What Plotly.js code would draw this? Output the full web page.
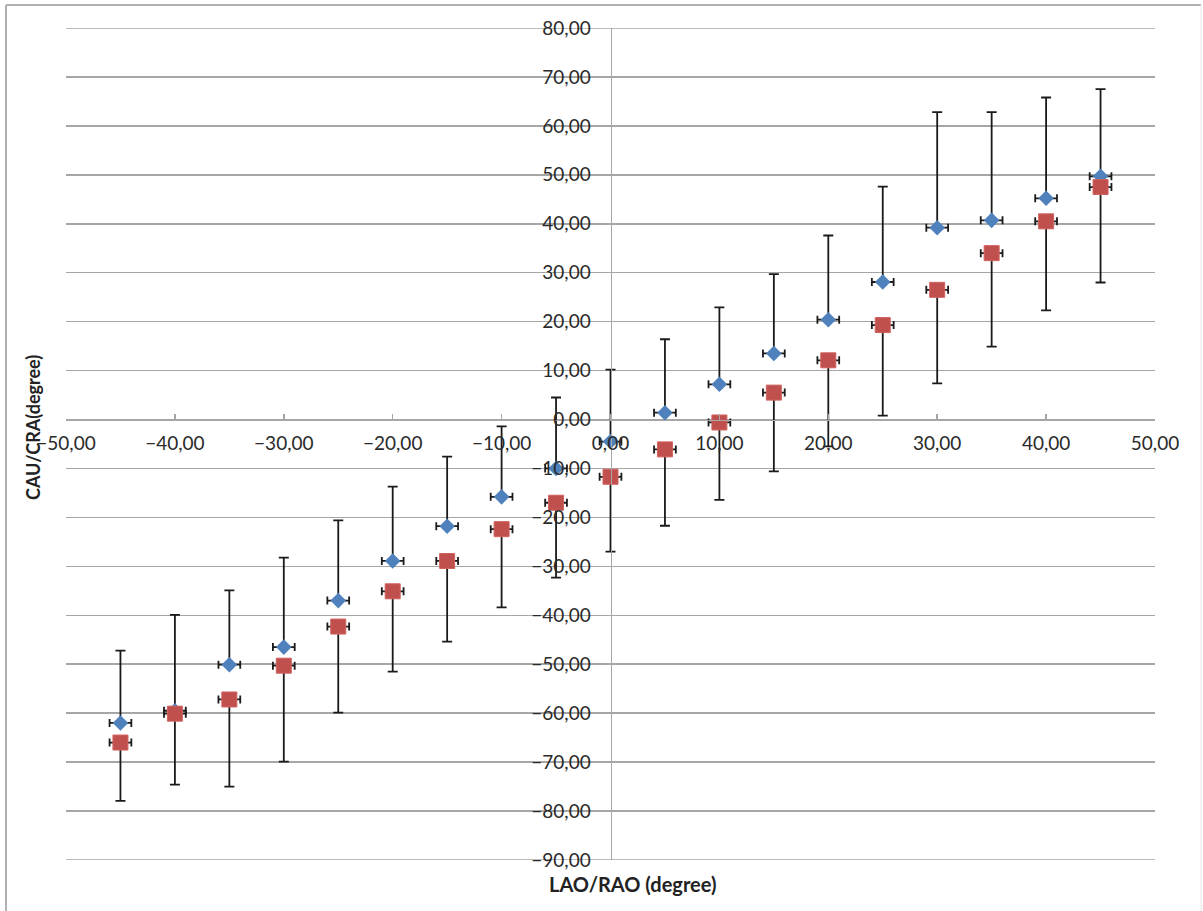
<!DOCTYPE html>
<html>
<head>
<meta charset="utf-8">
<script src="https://cdn.plot.ly/plotly-3.0.1.min.js"></script>
<style>
  html, body { margin: 0; padding: 0; background: #ffffff; }
  #chart { width: 1203px; height: 911px; }
</style>
</head>
<body>
<div id="chart"></div>
<script>
// Angle categories (LAO/RAO, degree)
const angles = [-45, -40, -35, -30, -25, -20, -15, -10, -5, 0, 5, 10, 15, 20, 25, 30, 35, 40, 45];
// Blue series (diamonds)
const blueVals = [-62.0, -59.5, -50.1, -46.5, -37.0, -28.9, -21.8, -15.8, -10.0, -4.5, 1.4, 7.2, 13.5, 20.4, 28.1, 39.2, 40.7, 45.2, 49.7];
// Red series (squares)
const redVals = [-66.0, -60.1, -57.2, -50.3, -42.3, -35.1, -28.9, -22.4, -17.0, -11.7, -6.1, -0.6, 5.5, 12.1, 19.3, 26.5, 34.0, 40.5, 47.5];
// Upper end of vertical error bar (drawn from blue series)
const upperVals = [-47.2, -39.9, -34.9, -28.2, -20.6, -13.7, -7.6, -1.4, 4.5, 10.2, 16.4, 22.9, 29.7, 37.6, 47.6, 62.8, 62.8, 65.8, 67.5];
// Lower end of vertical error bar (drawn from red series)
const lowerVals = [-77.9, -74.6, -75.0, -69.9, -59.9, -51.5, -45.4, -38.4, -32.3, -27.0, -21.7, -16.4, -10.6, -5.5, 0.8, 7.4, 14.9, 22.3, 28.0];
// Horizontal error (degree)
const xErr = 1.0;
// Axis ranges
const xRange = [-50, 50];
const yRange = [-90, 80];

const blueUp = upperVals.map((u, i) => +(u - blueVals[i]).toFixed(2));
const redDown = lowerVals.map((l, i) => +(redVals[i] - l).toFixed(2));
const zeros = angles.map(() => 0);

const barColor = '#1a1a1a';
const gridColor = '#a6a6a6';
const fontFam = 'Lato, "Open Sans", sans-serif';
const labelColor = '#2a2a2a';

const traces = [
  {
    type: 'scatter', mode: 'markers', name: 'blue',
    x: angles, y: blueVals,
    marker: { symbol: 'diamond', size: 12, color: '#4F81BD', line: { width: 0 } },
    error_y: { type: 'data', symmetric: false, array: blueUp, arrayminus: zeros,
               color: barColor, thickness: 1.8, width: 5 },
    error_x: { type: 'constant', value: xErr, color: barColor, thickness: 1.8, width: 4 }
  },
  {
    type: 'scatter', mode: 'markers', name: 'red',
    x: angles, y: redVals,
    marker: { symbol: 'square', size: 15, color: '#C0504D', line: { width: 1, color: '#d0625f' } },
    error_y: { type: 'data', symmetric: false, array: zeros, arrayminus: redDown,
               color: barColor, thickness: 1.8, width: 5 },
    error_x: { type: 'constant', value: xErr, color: barColor, thickness: 1.8, width: 4 }
  }
];

const L = 66, R = 1155, T = 28, B = 860;
const px2x = p => (p - L) / (R - L);
const px2y = p => (B - p) / (B - T);

const layout = {
  width: 1203, height: 911,
  margin: { l: L, r: 1203 - R, t: T, b: 911 - B, pad: 0 },
  paper_bgcolor: '#ffffff', plot_bgcolor: '#ffffff',
  separators: ', ',
  showlegend: false,
  font: { family: fontFam, size: 19, color: labelColor },
  xaxis: {
    range: xRange, tick0: 0, dtick: 10, tickformat: '.2f',
    showgrid: false, zeroline: false,
    anchor: 'free', position: (0 - yRange[0]) / (yRange[1] - yRange[0]),
    showline: true, linecolor: gridColor, linewidth: 1.5,
    ticks: 'inside', ticklen: 6, tickwidth: 1.5, tickcolor: gridColor,
    ticklabelstandoff: 6,
    tickfont: { family: fontFam, size: 19, color: labelColor }
  },
  yaxis: {
    range: yRange, tick0: 0, dtick: 10, tickformat: '.2f',
    showgrid: true, gridcolor: gridColor, gridwidth: 1.5,
    zeroline: false,
    anchor: 'free', position: (0 - xRange[0]) / (xRange[1] - xRange[0]),
    showline: true, linecolor: gridColor, linewidth: 1.5,
    ticks: '', ticklabelstandoff: 16,
    tickfont: { family: fontFam, size: 19, color: labelColor }
  },
  annotations: [
    { xref: 'paper', yref: 'paper', x: px2x(632), y: px2y(884), xanchor: 'center', yanchor: 'middle',
      text: '<b>LAO/RAO (degree)</b>', showarrow: false,
      font: { family: fontFam, size: 20, color: '#222222' } },
    { xref: 'paper', yref: 'paper', x: px2x(33), y: px2y(428), xanchor: 'center', yanchor: 'middle',
      text: '<b>CAU/CRA(degree)</b>', showarrow: false, textangle: -90,
      font: { family: fontFam, size: 18, color: '#222222' } }
  ],
  shapes: [
    // gridlines at the range ends (top and bottom)
    { type: 'line', xref: 'paper', yref: 'y', x0: 0, x1: 1, y0: yRange[1], y1: yRange[1],
      line: { color: gridColor, width: 1.5 }, layer: 'below' },
    { type: 'line', xref: 'paper', yref: 'y', x0: 0, x1: 1, y0: yRange[0], y1: yRange[0],
      line: { color: gridColor, width: 1.5 }, layer: 'below' },
    // outer chart frame
    { type: 'line', xref: 'paper', yref: 'paper', x0: px2x(6), x1: px2x(6), y0: px2y(5), y1: px2y(911),
      line: { color: '#b0b0b0', width: 2 } },
    { type: 'line', xref: 'paper', yref: 'paper', x0: px2x(6), x1: px2x(1201), y0: px2y(5), y1: px2y(5),
      line: { color: '#b0b0b0', width: 2 } },
    { type: 'line', xref: 'paper', yref: 'paper', x0: px2x(1201), x1: px2x(1201), y0: px2y(5), y1: px2y(911),
      line: { color: '#e6e6e6', width: 1 } }
  ]
};

Plotly.newPlot('chart', traces, layout, { displayModeBar: false, staticPlot: true });
</script>
</body>
</html>
